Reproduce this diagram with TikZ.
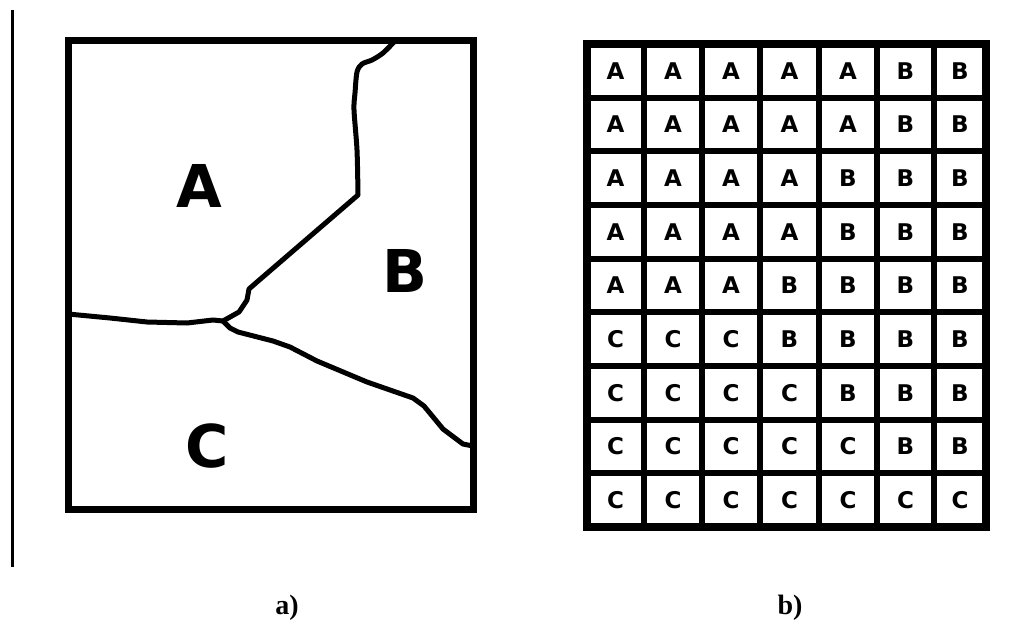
\documentclass[tikz,border=0pt]{standalone}
\usepackage{fontspec}
\setmainfont{Liberation Serif}
\newfontfamily\lettfont{DejaVu Sans}
\begin{document}
\begin{tikzpicture}[x=1pt,y=-1pt,
  frame/.style={line width=7pt,line join=miter},
  border/.style={line width=5pt,line join=round,line cap=round},
  bigletter/.style={inner sep=0pt,font=\lettfont\bfseries\fontsize{59}{62}\selectfont},
  cellletter/.style={inner sep=0pt,font=\lettfont\bfseries\fontsize{23}{26}\selectfont},
  caption/.style={inner sep=0pt,anchor=base,font=\bfseries\fontsize{28}{30}\selectfont},
  gridout/.style={line width=8pt},
  gridin/.style={line width=6pt}]
\useasboundingbox (0,0) rectangle (1009,621);
% left rule
\draw[line width=3pt] (12,10) -- (12,567);
% left panel
\draw[frame] (68,40) rectangle (473,509);
\draw[border] plot[smooth,tension=0.5] coordinates {(395,41) (383,53) (372,60) (362,64) (357,72) (355,93) (354,110) (357,150) (358,195)}
  -- (257,282) -- (249,289) -- (247,300) -- (239,312) -- (223,321);
\draw[border] (68,314) -- (110,318) -- (147,322) -- (187,323) -- (213,320) -- (223,321);
\draw[border] (223,321) -- (230,328) -- (238,332) -- (273,341) -- (290,347) -- (317,361) -- (367,382) -- (413,398) -- (424,406) -- (443,429) -- (463,444) -- (473,446);
\node[bigletter] (A) at (199,186) {A};
\node[bigletter] (B) at (405,271) {B};
\node[bigletter] (C) at (207,446) {C};
% grid
\draw[gridout] (587,44) rectangle (986,527);
\foreach \xx in {644,702,760,819,877,934} \draw[gridin] (\xx,44) -- (\xx,527);
\foreach \k in {1,...,8} \draw[gridin] (587,44+53.667*\k) -- (986,44+53.667*\k);
\foreach \row [count=\r] in {{A,A,A,A,A,B,B},{A,A,A,A,A,B,B},{A,A,A,A,B,B,B},{A,A,A,A,B,B,B},{A,A,A,B,B,B,B},{C,C,C,B,B,B,B},{C,C,C,C,B,B,B},{C,C,C,C,C,B,B},{C,C,C,C,C,C,C}}{
  \foreach \l [count=\c] in \row {
    \pgfmathsetmacro\cx{{615.5,673,731,789.5,848,905.5,960}[\c-1]}
    \node[cellletter] (cell-\r-\c) at (\cx,{44+53.667*(\r-0.5)}) {\l};
  }
}
% captions
\node[caption] (capa) at (287,614) {a)};
\node[caption] (capb) at (790,614) {b)};
\end{tikzpicture}
\end{document}
